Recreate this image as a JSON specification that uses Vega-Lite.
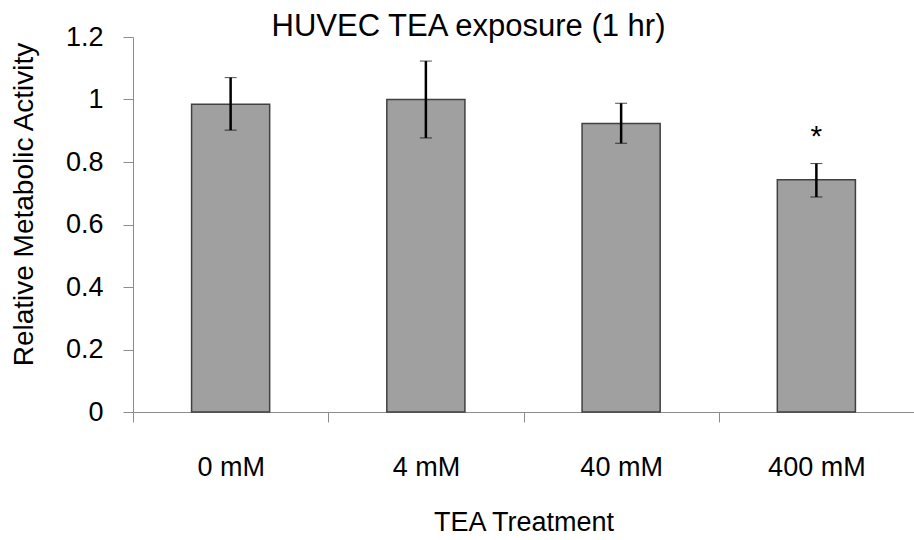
{
  "$schema": "https://vega.github.io/schema/vega-lite/v6.json",
  "autosize": {"type": "none"},
  "padding": {"left": 133, "top": 37, "right": 0, "bottom": 128},
  "width": 781,
  "height": 375,
  "background": "white",
  "config": {
    "font": "Liberation Sans",
    "view": {"stroke": null}
  },
  "title": {
    "text": "HUVEC TEA exposure (1 hr)",
    "fontSize": 31,
    "fontWeight": "normal",
    "font": "Liberation Sans",
    "color": "#000000",
    "anchor": "middle",
    "frame": "group",
    "dx": -55,
    "dy": 50,
    "offset": 2,
    "baseline": "alphabetic"
  },
  "data": {
    "values": [
      {"treatment": "0 mM", "mean": 0.985, "lower": 0.902, "upper": 1.070, "sig": ""},
      {"treatment": "4 mM", "mean": 1.0, "lower": 0.877, "upper": 1.123, "sig": ""},
      {"treatment": "40 mM", "mean": 0.923, "lower": 0.860, "upper": 0.988, "sig": ""},
      {"treatment": "400 mM", "mean": 0.743, "lower": 0.688, "upper": 0.795, "sig": "*"}
    ]
  },
  "encoding": {
    "x": {
      "field": "treatment",
      "type": "nominal",
      "sort": null,
      "scale": {"paddingInner": 0, "paddingOuter": 0},
      "axis": {
        "title": "TEA Treatment",
        "labelAngle": 0,
        "labelFontSize": 27,
        "labelColor": "#000000",
        "labelBaseline": "middle",
        "labelPadding": 45,
        "tickBand": "extent",
        "tickSize": 10,
        "tickColor": "#8c8c8c",
        "domainColor": "#8c8c8c",
        "tickWidth": 1,
        "domainWidth": 1,
        "titleFontSize": 27,
        "titleFontWeight": "normal",
        "titleColor": "#000000",
        "titleBaseline": "middle",
        "titleY": 110
      }
    }
  },
  "layer": [
    {
      "mark": {"type": "bar", "width": {"band": 0.4}, "color": "#a0a0a0", "stroke": "#404040", "strokeWidth": 1.5},
      "encoding": {
        "y": {
          "field": "mean",
          "type": "quantitative",
          "title": "Relative Metabolic Activity",
          "scale": {"domain": [0, 1.2], "nice": false},
          "axis": {
            "title": "Relative Metabolic Activity",
            "values": [0, 0.2, 0.4, 0.6, 0.8, 1.0, 1.2],
            "format": ".1~f",
            "grid": false,
            "labelFontSize": 27,
            "labelColor": "#000000",
            "labelPadding": 20,
            "tickSize": 10,
            "tickColor": "#8c8c8c",
            "domainColor": "#8c8c8c",
            "titleFontSize": 28,
            "titleFontWeight": "normal",
            "titleColor": "#000000",
            "titleAngle": 270,
            "titleBaseline": "middle",
            "titleAlign": "center",
            "titleX": -109,
            "titleY": 167
          }
        }
      }
    },
    {
      "mark": {"type": "errorbar", "ticks": {"size": 12, "color": "#000000", "strokeWidth": 2.5}, "rule": {"color": "#000000", "strokeWidth": 2.5}},
      "encoding": {
        "y": {"field": "lower", "type": "quantitative", "title": "Relative Metabolic Activity"},
        "y2": {"field": "upper"}
      }
    },
    {
      "mark": {"type": "text", "fontSize": 30, "dy": -27, "baseline": "middle", "color": "#000000"},
      "encoding": {
        "y": {"field": "upper", "type": "quantitative", "title": "Relative Metabolic Activity"},
        "text": {"field": "sig"}
      }
    }
  ]
}
